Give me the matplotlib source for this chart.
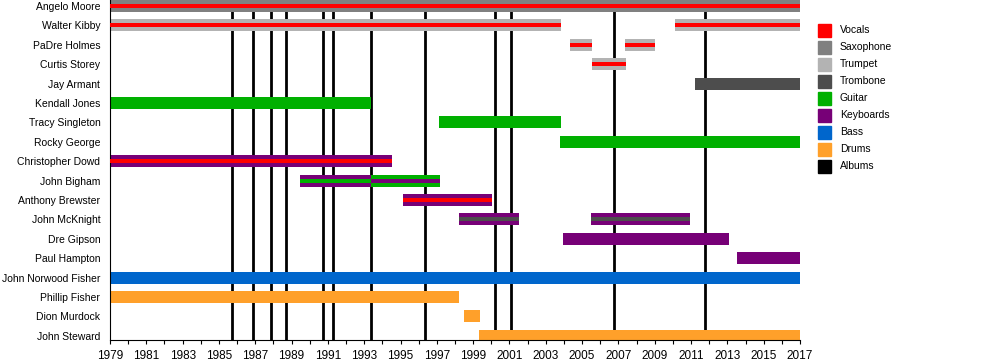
import matplotlib
matplotlib.use("Agg")
from matplotlib import pyplot as plt
import numpy as np

plt.rcParams['font.family'] = ['Liberation Sans', 'DejaVu Sans']

members = ["Angelo Moore", "Walter Kibby", "PaDre Holmes", "Curtis Storey", "Jay Armant",
           "Kendall Jones", "Tracy Singleton", "Rocky George", "Christopher Dowd",
           "John Bigham", "Anthony Brewster", "John McKnight", "Dre Gipson", "Paul Hampton",
           "John Norwood Fisher", "Phillip Fisher", "Dion Murdock", "John Steward"]

roles = ["Vocals", "Saxophone", "Trumpet", "Trombone", "Guitar", "Keyboards", "Bass", "Drums", "Albums"]
role_colors = ["#ff0000", "#808080", "#b3b3b3", "#4d4d4d", "#00b000", "#770077", "#0066cc", "#ffa02a", "#000000"]

# (member, start, end, main role, stripe role or None)
stints = [
    ("Angelo Moore", 1979, 2017, "Saxophone", "Vocals"),
    ("Walter Kibby", 1979, 2003.84, "Trumpet", "Vocals"),
    ("Walter Kibby", 2010.12, 2017, "Trumpet", "Vocals"),
    ("PaDre Holmes", 2004.33, 2005.54, "Trumpet", "Vocals"),
    ("PaDre Holmes", 2007.36, 2009.01, "Trumpet", "Vocals"),
    ("Curtis Storey", 2005.54, 2007.42, "Trumpet", "Vocals"),
    ("Jay Armant", 2011.22, 2017, "Trombone", None),
    ("Kendall Jones", 1979, 1993.37, "Guitar", None),
    ("Tracy Singleton", 1997.12, 2003.84, "Guitar", None),
    ("Rocky George", 2003.78, 2017, "Guitar", None),
    ("Christopher Dowd", 1979, 1994.53, "Keyboards", "Vocals"),
    ("John Bigham", 1989.46, 1993.37, "Keyboards", "Guitar"),
    ("John Bigham", 1993.37, 1997.17, "Guitar", "Keyboards"),
    ("Anthony Brewster", 1995.14, 2000.04, "Keyboards", "Vocals"),
    ("John McKnight", 1998.22, 2001.52, "Keyboards", "Trombone"),
    ("John McKnight", 2005.49, 2010.94, "Keyboards", "Trombone"),
    ("Dre Gipson", 2003.95, 2013.09, "Keyboards", None),
    ("Paul Hampton", 2013.53, 2017, "Keyboards", None),
    ("John Norwood Fisher", 1979, 2017, "Bass", None),
    ("Phillip Fisher", 1979, 1998.22, "Drums", None),
    ("Dion Murdock", 1998.5, 1999.38, "Drums", None),
    ("John Steward", 1999.32, 2017, "Drums", None),
]

albums = [1985.74, 1986.89, 1987.88, 1988.71, 1990.75, 1991.30, 1993.39,
          1996.36, 2000.22, 2001.10, 2006.77, 2011.78]

color_of = dict(zip(roles, role_colors))
row_of = {m: i for i, m in enumerate(members)}

fig = plt.figure(figsize=(10, 3.6), dpi=100)
ax = fig.add_axes([0.11, 1 - 340 / 360, 0.69, 340 / 360])

for yr in albums:
    ax.axvline(yr, color="black", lw=2.0, zorder=1)

bar_h = 0.62
stripe_h = 0.21
for m, s, e, main, stripe in stints:
    y = row_of[m]
    ax.barh(y, e - s, left=s, height=bar_h, color=color_of[main], zorder=2)
    if stripe:
        ax.barh(y, e - s, left=s, height=stripe_h, color=color_of[stripe], zorder=3)

ax.set_xlim(1979, 2017)
ax.set_ylim(17.22, -0.31)
ax.set_yticks(range(len(members)))
ax.set_yticklabels(members, fontsize=7.5)
ax.tick_params(axis="y", length=0, pad=7)
ax.set_xticks(np.arange(1979, 2018, 2))
ax.set_xticks(np.arange(1979, 2018, 1), minor=True)
ax.tick_params(axis="x", which="both", length=3, width=0.8, labelsize=8.5, pad=4)
ax.spines["top"].set_visible(False)
ax.spines["right"].set_visible(False)

# legend
for i, (r, c) in enumerate(zip(roles, role_colors)):
    yc = 30 + i * 17
    fig.patches.append(plt.Rectangle((818 / 1000, 1 - (yc + 6.5) / 360), 13 / 1000, 13 / 360,
                                     transform=fig.transFigure, color=c, figure=fig))
    fig.text(840 / 1000, 1 - yc / 360, r, fontsize=7.5, va="center", ha="left")

plt.savefig("out.png", dpi=100)
